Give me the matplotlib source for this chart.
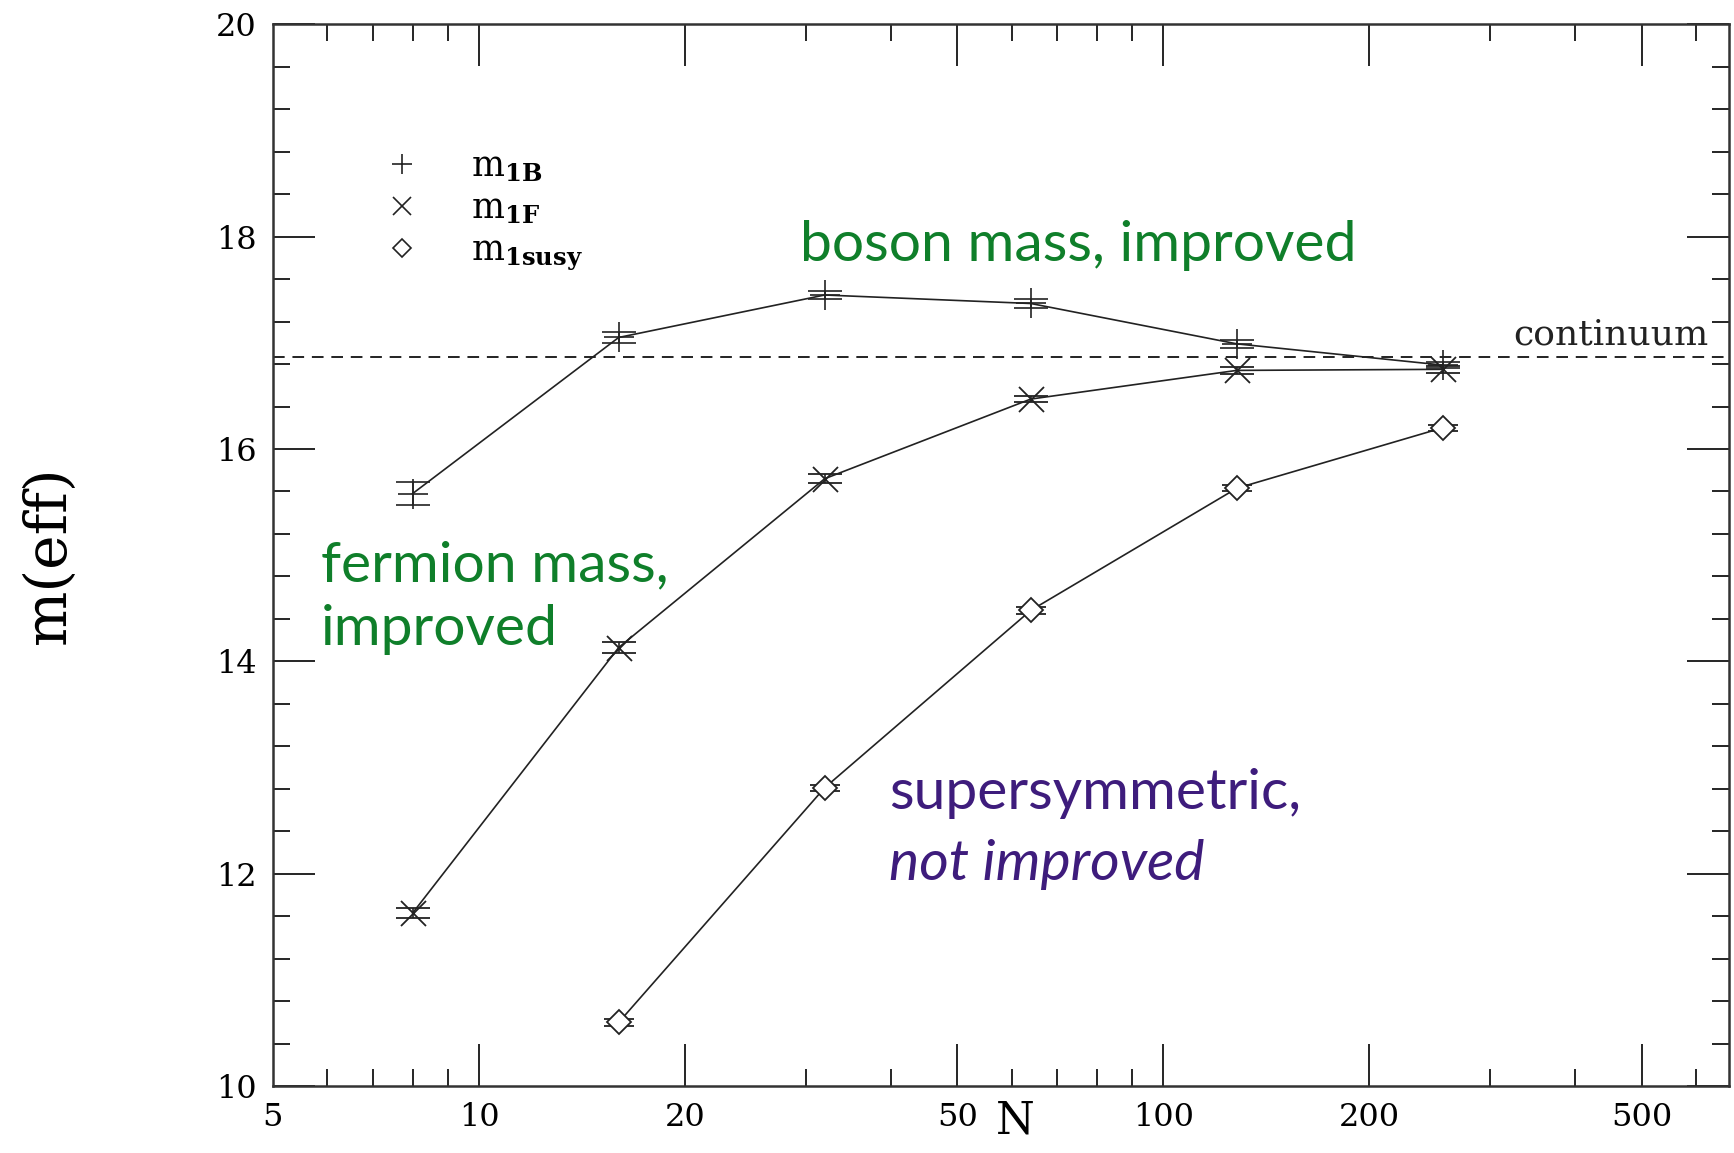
import matplotlib
matplotlib.use("Agg")
import matplotlib.pyplot as plt
from matplotlib.ticker import FixedLocator, NullFormatter
from matplotlib.lines import Line2D

# data
N_boson = [8, 16, 32, 64, 128, 256]
m_boson = [15.58, 17.05, 17.45, 17.37, 16.99, 16.79]
e_boson = [0.11, 0.05, 0.04, 0.04, 0.04, 0.03]

N_fermion = [8, 16, 32, 64, 128, 256]
m_fermion = [11.63, 14.13, 15.72, 16.47, 16.74, 16.75]
e_fermion = [0.05, 0.05, 0.04, 0.03, 0.03, 0.03]

N_susy = [16, 32, 64, 128, 256]
m_susy = [10.60, 12.81, 14.48, 15.63, 16.20]
e_susy = [0.03, 0.03, 0.03, 0.03, 0.03]

continuum = 16.87

x_major = [10, 20, 50, 100, 200, 500]
x_labels = ["5", "10", "20", "50", "100", "200", "500"]
x_label_pos = [5, 10, 20, 50, 100, 200, 500]
x_minor = [6, 7, 8, 9, 30, 40, 60, 70, 80, 90, 300, 400, 600]

green = "#0f7f2a"
purple = "#3e1c7c"

plt.rcParams["mathtext.fontset"] = "dejavuserif"

fig = plt.figure(figsize=(17.34, 11.53), dpi=100)
ax = fig.add_axes([0.1574, 0.058, 0.8396, 0.921])

lc = "#222222"
ax.errorbar(N_boson, m_boson, yerr=e_boson, fmt="-", color=lc, lw=1.2,
            marker="+", ms=22, mew=1.2, capsize=12, elinewidth=1.2, capthick=1.2)
ax.errorbar(N_fermion, m_fermion, yerr=e_fermion, fmt="-", color=lc, lw=1.2,
            marker="x", ms=18, mew=1.3, capsize=12, elinewidth=1.2, capthick=1.2)
ax.errorbar(N_susy, m_susy, yerr=e_susy, fmt="-", color=lc, lw=1.2,
            marker="D", ms=12, mew=1.3, mfc="white", capsize=11,
            elinewidth=1.2, capthick=1.2)

ax.axhline(continuum, color=lc, lw=1.4, ls=(0, (6, 4)))
ax.text(625, continuum + 0.05, "continuum", ha="right", va="bottom",
        family="DejaVu Serif", fontsize=26, color="#222222")

ax.set_xscale("log")
ax.set_xlim(5, 670)
ax.set_ylim(10, 20)

ax.xaxis.set_major_locator(FixedLocator(x_major))
ax.xaxis.set_minor_locator(FixedLocator(x_minor))
ax.xaxis.set_major_formatter(NullFormatter())
ax.xaxis.set_minor_formatter(NullFormatter())
for xv, lab in zip(x_label_pos, x_labels):
    ax.text(xv, -0.015, lab, transform=ax.get_xaxis_transform(), ha="center",
            va="top", family="DejaVu Serif", fontsize=23)

ax.set_yticks([10, 12, 14, 16, 18, 20])
ax.set_yticks([10 + 0.4 * i for i in range(26)], minor=True)
ax.tick_params(axis="both", which="both", direction="in", top=True, right=True)
ax.tick_params(axis="both", which="major", length=30, width=1.2)
ax.tick_params(axis="both", which="minor", length=12, width=1.2)
ax.tick_params(axis="y", which="major", labelsize=23, pad=12)
for lab in ax.get_yticklabels():
    lab.set_family("DejaVu Serif")
for sp in ax.spines.values():
    sp.set_linewidth(1.8)
    sp.set_color("#333333")

ax.set_ylabel("m(eff)", family="DejaVu Serif", fontsize=42, labelpad=100)
ax.text(0.51, -0.012, "N", transform=ax.transAxes, ha="center", va="top",
        family="DejaVu Serif", fontsize=32)

handles = [
    Line2D([], [], ls="none", marker="+", ms=14, mew=1.2, color=lc),
    Line2D([], [], ls="none", marker="x", ms=13, mew=1.2, color=lc),
    Line2D([], [], ls="none", marker="D", ms=9, mew=1.2, color=lc, mfc="white"),
]
labels = [r"$\mathrm{m}_{\mathbf{1B}}$", r"$\mathrm{m}_{\mathbf{1F}}$",
          r"$\mathrm{m}_{\mathbf{1susy}}$"]
ax.legend(handles, labels, loc="upper left", bbox_to_anchor=(0.055, 0.895),
          frameon=False, fontsize=25, handletextpad=1.0, labelspacing=0.2,
          borderaxespad=0)

ax.text(0.362, 0.792, "boson mass, improved", transform=ax.transAxes,
        family="Lato", fontsize=41, color=green, va="center", ha="left")
ax.text(0.033, 0.46, "fermion mass,\nimproved", transform=ax.transAxes,
        family="Lato", fontsize=41, color=green, va="center", ha="left",
        linespacing=1.3)
ax.text(0.423, 0.276, "supersymmetric,", transform=ax.transAxes,
        family="Lato", fontsize=41, color=purple, va="center", ha="left")
ax.text(0.423, 0.209, "not improved", transform=ax.transAxes,
        family="Lato", style="italic", fontsize=41, color=purple,
        va="center", ha="left")

fig.savefig("out.png", dpi=100)
